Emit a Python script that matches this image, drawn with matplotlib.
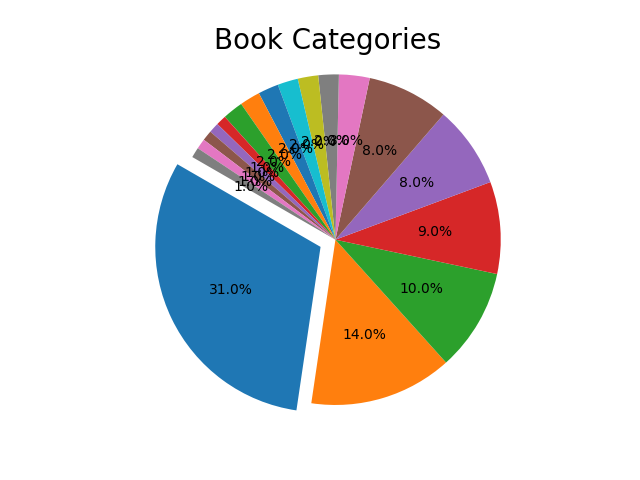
import matplotlib
matplotlib.use("Agg")
import matplotlib.pyplot as plt

# share of each book category, in percent
shares = [31, 14, 10, 9, 8, 8, 3, 2, 2, 2, 2, 2, 2, 1, 1, 1, 1, 1]
explode = [0.1] + [0] * (len(shares) - 1)

fig, ax = plt.subplots(figsize=(6.4, 4.8), dpi=100)
ax.pie(shares, explode=explode, autopct='%1.1f%%', startangle=150)
ax.axis('equal')
ax.set_title('Book Categories', fontsize=20)

fig.savefig('out.png', dpi=100)
